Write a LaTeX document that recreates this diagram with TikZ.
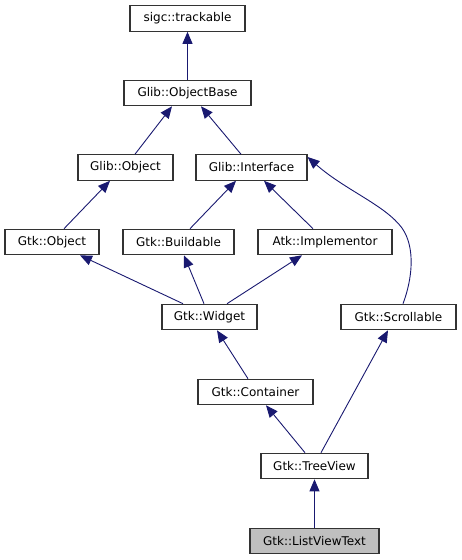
\documentclass[tikz,border=0pt]{standalone}
\usepackage{fontspec}
\setmainfont{DejaVu Sans}
\usetikzlibrary{arrows.meta,calc}
\definecolor{edgeblue}{HTML}{191970}
\definecolor{boxline}{HTML}{333333}
\definecolor{curfill}{HTML}{BFBFBF}
\begin{document}
\begin{tikzpicture}[x=1pt,y=-1pt,
  cls/.style={draw=boxline,line width=1.1pt,fill=white,minimum height=25.5pt,inner sep=0pt,font=\fontsize{12}{14}\selectfont},
  inh/.style={edgeblue,line width=0.9pt,{Triangle[length=12pt,width=10pt]}-},
]
\useasboundingbox (0,0) rectangle (461,560);
\node[cls,minimum width=115pt] (tr) at (187.5,18.5) {sigc::trackable};
\node[cls,minimum width=127pt] (ob) at (187.5,93) {Glib::ObjectBase};
\node[cls,minimum width=95pt] (go) at (125.5,167.5) {Glib::Object};
\node[cls,minimum width=111pt] (gi) at (251.5,167.5) {Glib::Interface};
\node[cls,minimum width=94pt] (gto) at (52,242) {Gtk::Object};
\node[cls,minimum width=111pt] (gb) at (178.5,242) {Gtk::Buildable};
\node[cls,minimum width=134pt] (ai) at (325,242) {Atk::Implementor};
\node[cls,minimum width=95pt] (gw) at (209.5,317) {Gtk::Widget};
\node[cls,minimum width=115pt] (gs) at (398.5,317) {Gtk::Scrollable};
\node[cls,minimum width=115pt] (gc) at (255.5,392) {Gtk::Container};
\node[cls,minimum width=107pt] (tv) at (314.5,466) {Gtk::TreeView};
\node[cls,minimum width=129pt,fill=curfill] (lv) at (314.5,541) {Gtk::ListViewText};

\draw[inh] (tr.south) -- (ob.north);
\draw[inh] ([xshift=-15.5pt]ob.south) -- ([xshift=9.5pt]go.north);
\draw[inh] ([xshift=13.5pt]ob.south) -- ([xshift=-10.5pt]gi.north);
\draw[inh] ([xshift=-15.5pt]go.south) -- ([xshift=12pt]gto.north);
\draw[inh] ([xshift=-15.5pt]gi.south) -- ([xshift=11.5pt]gb.north);
\draw[inh] ([xshift=12.5pt]gi.south) -- ([xshift=-12pt]ai.north);
\draw[inh] ([yshift=10.5pt]gi.east) .. controls (345,190) and (385,205) .. (402,228)
  .. controls (416,248) and (412,280) .. ([xshift=4.5pt]gs.north);
\draw[inh] ([xshift=28pt]gto.south) -- ([xshift=-26.5pt]gw.north);
\draw[inh] ([xshift=5.5pt]gb.south) -- ([xshift=-5.5pt]gw.north);
\draw[inh] ([xshift=-23pt]ai.south) -- ([xshift=17.5pt]gw.north);
\draw[inh] ([xshift=7.5pt]gw.south) -- ([xshift=-7.5pt]gc.north);
\draw[inh] ([xshift=10.5pt]gc.south) -- ([xshift=-9.5pt]tv.north);
\draw[inh] ([xshift=-10.5pt]gs.south) -- ([xshift=6.5pt]tv.north);
\draw[inh] (tv.south) -- (lv.north);
\end{tikzpicture}
\end{document}
